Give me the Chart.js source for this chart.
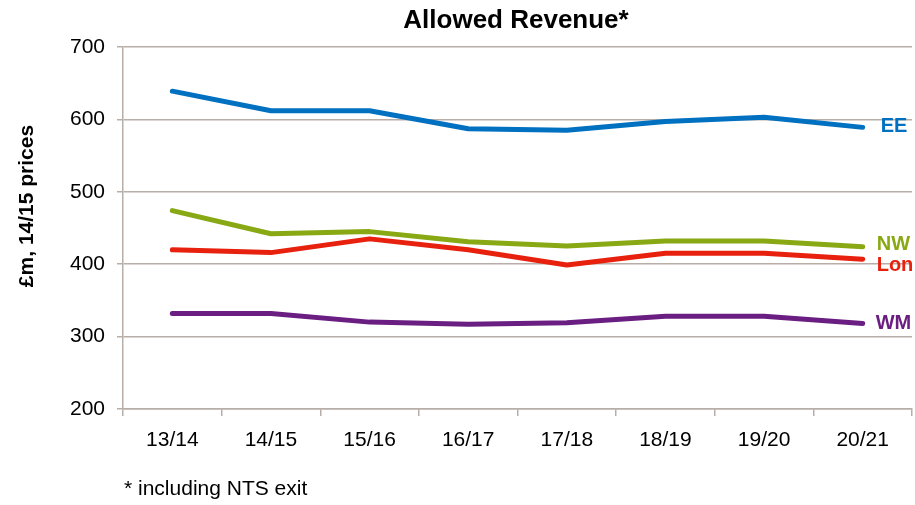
<!DOCTYPE html>
<html>
<head>
<meta charset="utf-8">
<script src="https://cdn.jsdelivr.net/npm/chart.js@4/dist/chart.umd.min.js"></script>
<style>
  html, body { margin: 0; padding: 0; background: #ffffff; }
  #wrap { width: 915px; height: 505px; position: relative; }
</style>
</head>
<body>
<div id="wrap"><canvas id="c" width="915" height="505"></canvas></div>
<script>
// ---- data ----
const categories = ["13/14", "14/15", "15/16", "16/17", "17/18", "18/19", "19/20", "20/21"];
const seriesNames = ["EE", "NW", "Lon", "WM"];
const eeValues  = [639, 612, 612, 587, 585, 597, 603, 589];
const nwValues  = [474, 442, 445, 431, 425, 432, 432, 424];
const lonValues = [420, 416, 435, 420, 399, 415, 415, 407];
const wmValues  = [332, 332, 320, 317, 319, 328, 328, 318];
const yTicks = [200, 300, 400, 500, 600, 700];
const titleText = "Allowed Revenue*";
const yTitleText = "£m, 14/15 prices";
const footnoteText = "* including NTS exit";

const seriesColors = ["#0070c0", "#88a814", "#e8200e", "#6b1e82"];
const labelOffsets = [-1, -2, 6, 0];
const labelDx = [18, 14, 14, 13];
const FONT = "'Liberation Sans', Arial, Helvetica, sans-serif";
const GRID = "#b7aea8";

const textPlugin = {
  id: 'textPlugin',
  afterDraw(chart) {
    const ctx = chart.ctx;
    ctx.save();
    // title
    ctx.fillStyle = "#000";
    ctx.font = "bold 26px " + FONT;
    ctx.textAlign = "center";
    ctx.textBaseline = "middle";
    ctx.fillText(titleText, 516, 21);
    // y axis title
    ctx.save();
    ctx.translate(27, 206);
    ctx.rotate(-Math.PI / 2);
    ctx.font = "bold 21px " + FONT;
    ctx.fillText(yTitleText, 0, 0);
    ctx.restore();
    // footnote
    ctx.font = "21px " + FONT;
    ctx.textAlign = "left";
    ctx.fillText(footnoteText, 124, 489);
    // series end labels
    ctx.font = "bold 20px " + FONT;
    chart.data.datasets.forEach((ds, i) => {
      const meta = chart.getDatasetMeta(i);
      const last = meta.data[meta.data.length - 1];
      ctx.fillStyle = seriesColors[i];
      ctx.textAlign = "left";
      ctx.textBaseline = "middle";
      ctx.fillText(ds.label, last.x + labelDx[i], last.y + labelOffsets[i]);
    });
    ctx.restore();
  }
};

const valueLists = [eeValues, nwValues, lonValues, wmValues];

new Chart(document.getElementById('c'), {
  type: 'line',
  data: {
    labels: categories,
    datasets: seriesNames.map((name, i) => ({
      label: name,
      data: valueLists[i],
      borderColor: seriesColors[i],
      backgroundColor: seriesColors[i],
      borderWidth: 5,
      borderCapStyle: 'round',
      borderJoinStyle: 'round',
      pointRadius: 0,
      tension: 0,
      fill: false
    }))
  },
  options: {
    responsive: false,
    animation: false,
    events: [],
    layout: { padding: { top: 47, right: 3, left: 0, bottom: 0 } },
    plugins: {
      legend: { display: false },
      title: { display: false },
      tooltip: { enabled: false }
    },
    scales: {
      x: {
        type: 'category',
        offset: true,
        grid: {
          offset: true,
          drawOnChartArea: false,
          drawTicks: true,
          tickLength: 7,
          color: GRID,
          lineWidth: 1.5
        },
        border: { display: true, color: GRID, width: 1.5 },
        ticks: {
          color: "#000",
          font: { family: FONT, size: 21 },
          padding: 12,
          maxRotation: 0,
          autoSkip: false
        },
        afterFit(scale) { scale.height = 96; }
      },
      y: {
        min: 200,
        max: 700,
        afterBuildTicks(scale) { scale.ticks = yTicks.map(v => ({ value: v })); },
        grid: {
          color: GRID,
          lineWidth: 1.5,
          tickLength: 6,
          drawTicks: true
        },
        border: { display: true, color: GRID, width: 1.5 },
        ticks: {
          color: "#000",
          font: { family: FONT, size: 21 },
          padding: 12
        },
        afterFit(scale) { scale.width = 123; }
      }
    }
  },
  plugins: [textPlugin]
});
</script>
</body>
</html>
